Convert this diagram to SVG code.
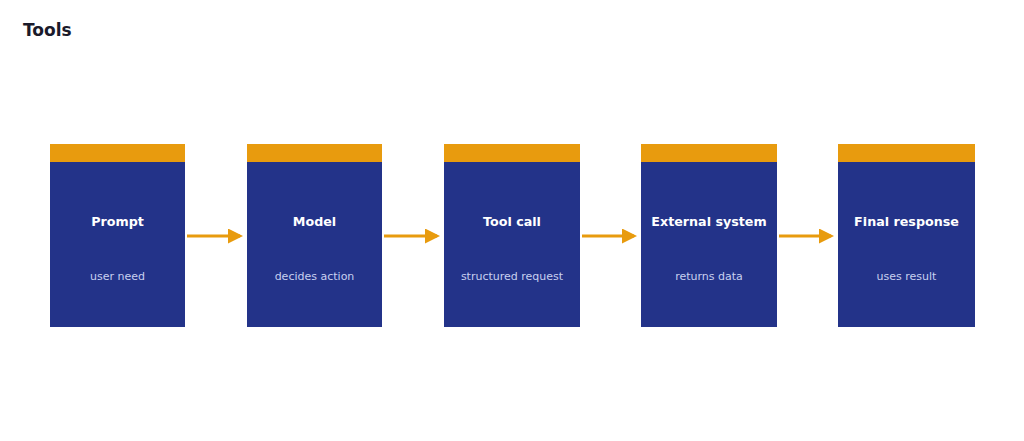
<svg xmlns="http://www.w3.org/2000/svg" width="1024" height="441" viewBox="0 0 1024 441">
<style>
text{font-family:"DejaVu Sans",sans-serif;text-anchor:middle}
.body{fill:#233389}
.cap{fill:#e89b0e}
.t{fill:#fff;font-weight:bold;font-size:12.7px}
.s{fill:#c8d0f0;font-size:11px}
.c{stroke:#e89b0e;stroke-width:3;fill:none;marker-end:url(#a)}
</style>
<defs><marker id="a" markerWidth="5" markerHeight="5" refX="4" refY="2.5" orient="auto" markerUnits="strokeWidth"><path d="M0,0L5,2.5L0,5z" fill="#e89b0e"/></marker></defs>
<rect width="1024" height="441" fill="#fff"/>
<text x="23" y="36" style="text-anchor:start;font-weight:bold;font-size:17px;fill:#1a1a2a">Tools</text>
<g id="n1"><rect class="body" x="50" y="162" width="135" height="165"/><rect class="cap" x="50" y="144" width="135" height="18"/><text class="t" x="117.5" y="226">Prompt</text><text class="s" x="117.5" y="280">user need</text></g>
<g id="n2"><rect class="body" x="247" y="162" width="135" height="165"/><rect class="cap" x="247" y="144" width="135" height="18"/><text class="t" x="314.5" y="226">Model</text><text class="s" x="314.5" y="280">decides action</text></g>
<g id="n3"><rect class="body" x="444" y="162" width="136" height="165"/><rect class="cap" x="444" y="144" width="136" height="18"/><text class="t" x="512" y="226">Tool call</text><text class="s" x="512" y="280">structured request</text></g>
<g id="n4"><rect class="body" x="641" y="162" width="136" height="165"/><rect class="cap" x="641" y="144" width="136" height="18"/><text class="t" x="709" y="226">External system</text><text class="s" x="709" y="280">returns data</text></g>
<g id="n5"><rect class="body" x="838" y="162" width="137" height="165"/><rect class="cap" x="838" y="144" width="137" height="18"/><text class="t" x="906.5" y="226">Final response</text><text class="s" x="906.5" y="280">uses result</text></g>
<g id="connectors">
<path class="c" d="M187,236H240"/>
<path class="c" d="M384,236H437"/>
<path class="c" d="M582,236H634"/>
<path class="c" d="M779,236H831"/>
</g>
</svg>
